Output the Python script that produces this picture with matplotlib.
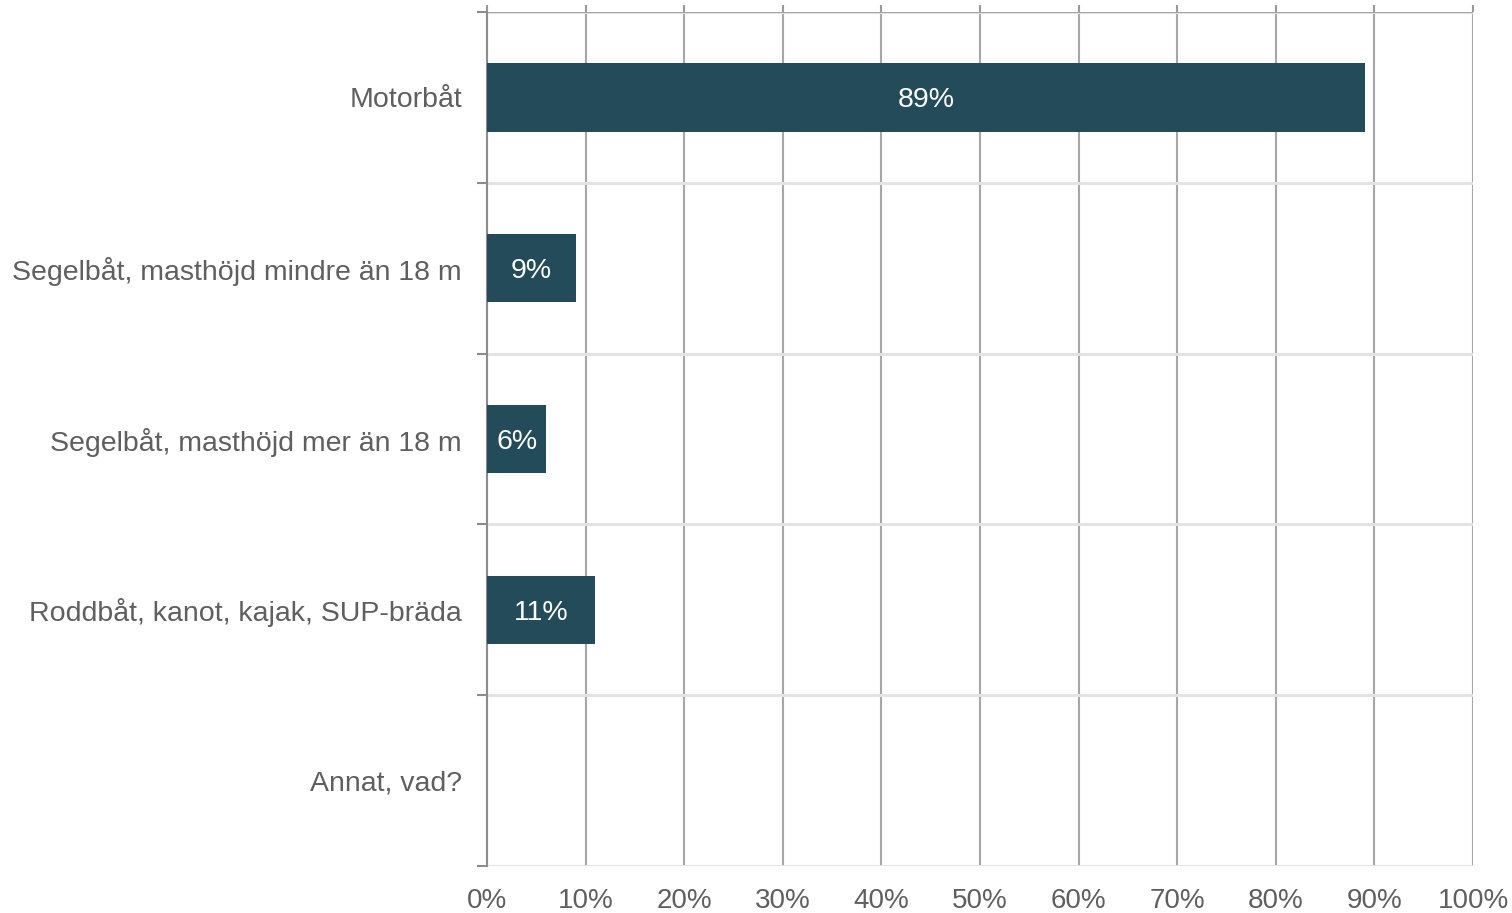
import matplotlib.pyplot as plt
import numpy as np

plt.rcParams['font.family'] = ['Liberation Sans', 'DejaVu Sans']

categories = ['Motorbåt', 'Segelbåt, masthöjd mindre än 18 m', 'Segelbåt, masthöjd mer än 18 m',
              'Roddbåt, kanot, kajak, SUP-bräda', 'Annat, vad?']
values = [89, 9, 6, 11, 0]
xticks = np.arange(0, 101, 10)

bar_color = '#234b5a'
text_gray = '#5f5f5f'

fig = plt.figure(figsize=(15.12, 9.13), dpi=100)
ax = fig.add_axes([487/1512, 1-866/913, (1473-487)/1512, (866-12)/913])

y = np.arange(len(categories))
ax.barh(y, values, height=0.4, color=bar_color, zorder=3)

for yi, v in zip(y, values):
    if v > 0:
        ax.text(v / 2, yi, '%d%%' % v, ha='center', va='center_baseline', color='white',
                fontsize=20.5, zorder=4)

ax.set_xlim(0, 100)
ax.set_ylim(len(categories) - 0.5, -0.5)
ax.set_yticks(y)
ax.set_yticklabels(categories, fontsize=20.5, color=text_gray, va='center_baseline')
ax.set_yticks(np.arange(-0.5, len(categories), 1), minor=True)
ax.set_xticks(xticks)
ax.set_xticklabels(['%d%%' % t for t in xticks], fontsize=20, color=text_gray)

ax.tick_params(axis='y', which='major', length=0, pad=18)
ax.tick_params(axis='y', which='minor', length=7, width=1.5, color='#8c8c8c', direction='out')
ax.tick_params(axis='x', which='major', top=True, bottom=False, length=5, width=1.5,
               color='#999999', pad=11)

# vertical grid darker, horizontal band lines light
for t in xticks:
    ax.axvline(t, color='#a6a6a6', lw=1.5, zorder=1)
for b in np.arange(-0.5, len(categories), 1):
    ax.axhline(b, color='#e3e3e3', lw=2.2, zorder=1)
ax.axhline(-0.5, color='#a6a6a6', lw=1.5, zorder=2)

for s in ['top', 'right', 'bottom']:
    ax.spines[s].set_visible(False)
ax.spines['left'].set_color('#8c8c8c')
ax.spines['left'].set_linewidth(1.5)
ax.spines['left'].set_zorder(2)

fig.savefig('out.png', dpi=100)
